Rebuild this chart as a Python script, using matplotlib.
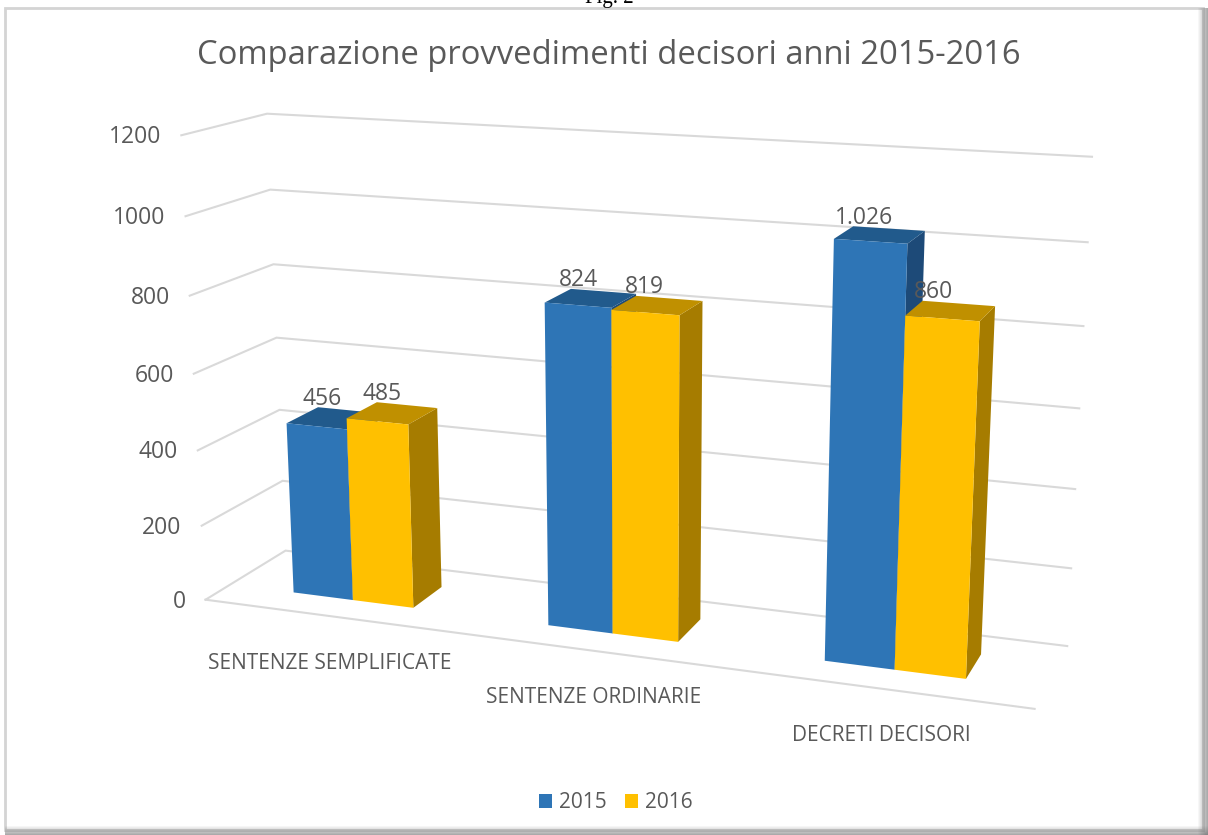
import numpy as np
import matplotlib
matplotlib.use('Agg')
import matplotlib.pyplot as plt
from matplotlib.patches import Polygon, Rectangle, Patch

plt.rcParams['font.family'] = ['Open Sans', 'DejaVu Sans']

# Data
categories = ['SENTENZE SEMPLIFICATE', 'SENTENZE ORDINARIE', 'DECRETI DECISORI']
series_names = ['2015', '2016']
values_2015 = [456, 824, 1026]
values_2016 = [485, 819, 860]
y_ticks = [0, 200, 400, 600, 800, 1000, 1200]

title = 'Comparazione provvedimenti decisori anni 2015-2016'
text_color = '#595959'
grid_color = '#d9d9d9'
blue = ('#2e75b6', '#215a8c', '#1d4a78')
yellow = ('#ffc000', '#c09000', '#a67c00')

fig = plt.figure(figsize=(12.08, 8.35), dpi=100)
ax = fig.add_axes([0, 0, 1, 1])
ax.set_xlim(0, 1208)
ax.set_ylim(835, 0)
ax.axis('off')

# Perspective camera for the 3D box, fitted on the corners of the walls
# world = (category position, value, depth 0 front..1 back), picture = pixels
calib = [
    (0, 0, 0, 205, 599), (3, 0, 0, 1035, 709), (0, 0, 1, 285, 551), (3, 0, 1, 1067, 646),
    (0, 1200, 0, 181, 136), (0, 1200, 1, 267, 113), (3, 1200, 1, 1092, 157),
    (3, 1000, 1, 1088, 242), (3, 800, 1, 1083, 326), (0, 400, 1, 280, 410),
    (0, 200, 1, 283, 481), (0, 400, 0, 198, 450), (0, 200, 0, 202, 526),
]
rows = []
for wx, wy, wz, px, py in calib:
    w = [wx, wy / 1000, wz, 1]
    u, v = px / 1000, py / 1000
    rows.append(w + [0, 0, 0, 0] + [-u * c for c in w])
    rows.append([0, 0, 0, 0] + w + [-v * c for c in w])
A = np.array(rows, dtype=float)
P = np.linalg.svd(A)[2][-1].reshape(3, 4)


def proj(x, y, z):
    h = P @ np.array([x, y / 1000, z, 1.0])
    return h[0] / h[2] * 1000, h[1] / h[2] * 1000


# Frame and shadow of the pasted picture
ax.add_patch(Rectangle((5, 8), 1198, 822, fc='white', ec='#d4d4d4', lw=2, zorder=0))
for i in range(10):
    a = 0.05 + 0.06 * i
    ax.add_patch(Rectangle((1198 + i, 8), 1, 827, fc='#707070', ec='none', alpha=a, zorder=0.5))
    ax.add_patch(Rectangle((5, 826 + i), 1203, 1, fc='#606060', ec='none', alpha=a, zorder=0.5))
ax.text(609, 3, 'Fig. 2', family='Liberation Serif', fontsize=15, ha='center', va='baseline', color='black')

# Walls
for t in y_ticks:
    pts = [proj(0, t, 0), proj(0, t, 1), proj(3, t, 1)]
    ax.plot(*zip(*pts), color=grid_color, lw=1.5, solid_joinstyle='miter', zorder=1)
    lx, ly = proj(0, t, 0)
    ax.text(lx - 20, ly + 2, str(t), ha='right', va='center', fontsize=16.5, color=text_color)
ax.plot(*zip(proj(0, 0, 0), proj(3, 0, 0)), color=grid_color, lw=1.5, zorder=1)

# Bars
bar_w = 0.24
bar_off = 0.5
z_front, z_back = 0.3, 0.7


def draw_bar(x0, x1, val, cols, zo):
    front = [proj(x0, 0, z_front), proj(x1, 0, z_front), proj(x1, val, z_front), proj(x0, val, z_front)]
    top = [proj(x0, val, z_front), proj(x1, val, z_front), proj(x1, val, z_back), proj(x0, val, z_back)]
    side = [proj(x1, 0, z_front), proj(x1, 0, z_back), proj(x1, val, z_back), proj(x1, val, z_front)]
    ax.add_patch(Polygon(side, fc=cols[2], ec='none', zorder=zo))
    ax.add_patch(Polygon(top, fc=cols[1], ec='none', zorder=zo))
    ax.add_patch(Polygon(front, fc=cols[0], ec='none', zorder=zo))


def fmt(v):
    return f'{v:,}'.replace(',', '.')


for i, cat in enumerate(categories):
    c = i + bar_off
    draw_bar(c - bar_w, c, values_2015[i], blue, 2 + i)
    draw_bar(c, c + bar_w, values_2016[i], yellow, 2.5 + i)
    for xm, v in ((c - bar_w / 2, values_2015[i]), (c + bar_w / 2, values_2016[i])):
        lx, ly = proj(xm, v, z_back)
        ax.text(lx - 25, ly - 11, fmt(v), ha='center', va='center', fontsize=16.5, color=text_color, zorder=10)
    lx, ly = proj(i + 0.5, 0, 0)
    ax.text(lx, ly + 47, cat, ha='center', va='center', fontsize=15, color=text_color)

ax.text(609, 55, title, ha='center', va='center', fontsize=23.6, color=text_color)

handles = [Patch(fc=blue[0], label=series_names[0]), Patch(fc=yellow[0], label=series_names[1])]
ax.legend(handles=handles, loc='center', bbox_to_anchor=(616, 803), bbox_transform=ax.transData,
          ncol=2, frameon=False, fontsize=15, handlelength=0.62, handleheight=0.62,
          handletextpad=0.35, columnspacing=0.85, labelcolor=text_color)

fig.savefig('out.png', dpi=100)
